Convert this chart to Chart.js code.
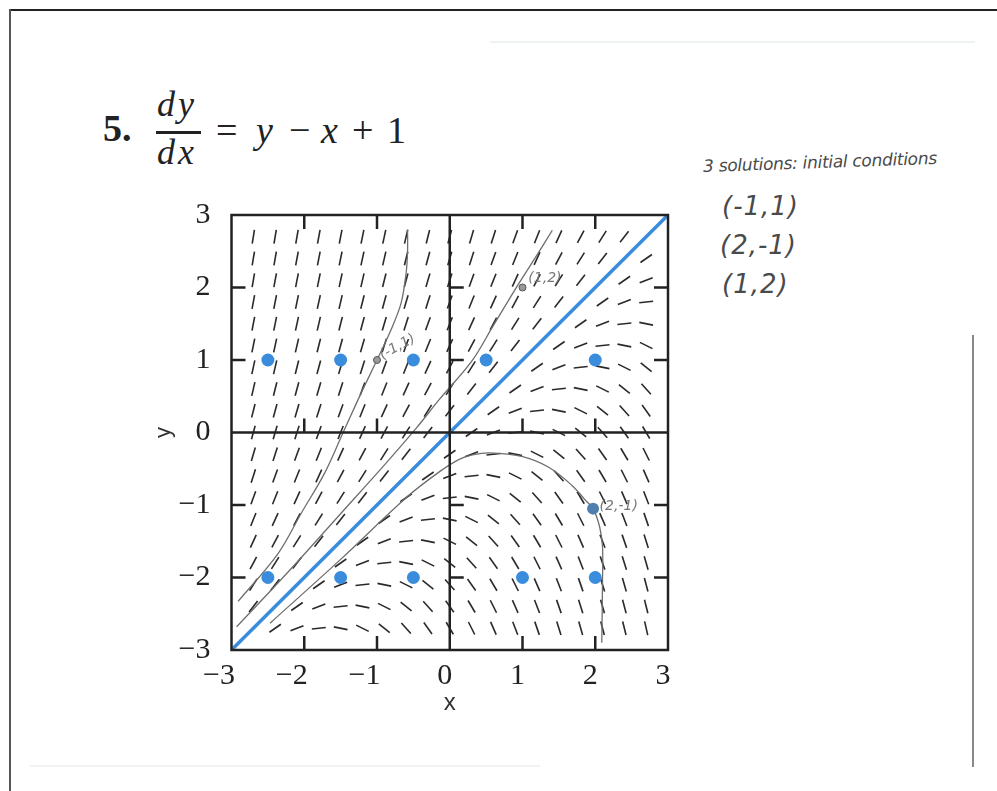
<!DOCTYPE html>
<html>
<head>
<meta charset="utf-8">
<title>dy/dx = y - x + 1</title>
<script src="https://cdn.jsdelivr.net/npm/chart.js@4.4.1/dist/chart.umd.min.js"></script>
<style>
  html, body { margin: 0; padding: 0; background: #fff; }
  body { width: 997px; height: 791px; position: relative; overflow: hidden; font-family: "Liberation Serif", serif; }
  #fieldChart { position: absolute; left: 0; top: 0; }
  .t { position: absolute; white-space: nowrap; color: #222; }
  .hand { position: absolute; white-space: nowrap; color: #4a4a4a; font-family: "DejaVu Sans", sans-serif; font-style: italic; font-weight: 200; }
  .rule { position: absolute; }
</style>
</head>
<body>
<!-- page edges of the scan -->
<div class="rule" style="left:10px;top:9px;width:987px;height:2px;background:#222"></div>
<div class="rule" style="left:9px;top:9px;width:2px;height:782px;background:#555"></div>
<div class="rule" style="left:972px;top:335px;width:2px;height:432px;background:#888"></div>
<div class="rule" style="left:490px;top:41px;width:485px;height:2px;background:#eef2f2"></div>
<div class="rule" style="left:30px;top:765px;width:510px;height:2px;background:#f2f2f2"></div>

<!-- problem heading -->
<div class="t" style="left:103px;top:109px;font-size:38px;line-height:38px;font-weight:bold">5.</div>
<div class="t" style="left:157px;top:86px;font-size:36px;line-height:36px;font-style:italic;letter-spacing:3px">dy</div>
<div class="rule" style="left:156px;top:131px;width:45px;height:2.5px;background:#222"></div>
<div class="t" style="left:157px;top:134px;font-size:36px;line-height:36px;font-style:italic;letter-spacing:3px">dx</div>
<div class="t" style="left:216px;top:111px;font-size:38px;line-height:38px">=</div>
<div class="t" style="left:256px;top:111px;font-size:38px;line-height:38px;font-style:italic">y</div>
<div class="t" style="left:289px;top:111px;font-size:38px;line-height:38px">−</div>
<div class="t" style="left:321px;top:111px;font-size:38px;line-height:38px;font-style:italic">x</div>
<div class="t" style="left:352px;top:111px;font-size:38px;line-height:38px">+</div>
<div class="t" style="left:387px;top:111px;font-size:38px;line-height:38px">1</div>

<!-- handwritten notes -->
<div class="hand" style="left:703px;top:152px;font-size:17px;letter-spacing:-0.3px;transform:rotate(-2deg)">3 solutions: initial conditions</div>
<div class="hand" style="left:722px;top:191px;font-size:26px;letter-spacing:1px">(-1,1)</div>
<div class="hand" style="left:720px;top:230px;font-size:26px;letter-spacing:1px">(2,-1)</div>
<div class="hand" style="left:722px;top:269px;font-size:26px;letter-spacing:1px">(1,2)</div>

<canvas id="fieldChart" width="997" height="791"></canvas>

<script>
// grid where the slope marks sit
const gridX = [-2.7, -2.4, -2.1, -1.8, -1.5, -1.2, -0.9, -0.6, -0.3, 0, 0.3, 0.6, 0.9, 1.2, 1.5, 1.8, 2.1, 2.4, 2.7];
const gridY = [-2.7, -2.4, -2.1, -1.8, -1.5, -1.2, -0.9, -0.6, -0.3, 0, 0.3, 0.6, 0.9, 1.2, 1.5, 1.8, 2.1, 2.4, 2.7];

// axis ticks
const tickValues = [-3, -2, -1, 0, 1, 2, 3];
const tickLabels = ['−3', '−2', '−1', '0', '1', '2', '3'];

// blue dots
const dotX = [-2.5, -1.5, -0.5, 0.5, 2, -2.5, -1.5, -0.5, 1, 2];
const dotY = [1, 1, 1, 1, 1, -2, -2, -2, -2, -2];

// line y = x
const diagX = [-3, 3];
const diagY = [-3, 3];

// initial conditions marked by hand
const penX = [-1, 1];
const penY = [1, 2];
const markX = [1.97];
const markY = [-1.05];

// hand drawn solution curves
const curveAX = [-2.91, -2.36, -2.04, -1.72, -1.47, -1.22, -1.0, -0.81, -0.67, -0.6, -0.58, -0.58];
const curveAY = [-2.33, -1.67, -1.11, -0.56, -0.01, 0.54, 1.0, 1.41, 1.78, 2.2, 2.5, 2.8];
const curveBX = [-2.93, -2.2, -1.5, -0.9, -0.46, -0.14, 0.3, 0.59, 0.94, 1.2, 1.41];
const curveBY = [-2.68, -1.9, -1.12, -0.45, 0.06, 0.46, 0.98, 1.46, 2.04, 2.45, 2.79];
const curveCX = [-2.47, -1.5, -0.6, -0.14, 0.13, 0.31, 0.54, 0.99, 1.36, 1.68, 1.87, 1.97, 2.06, 2.1, 2.1, 2.09];
const curveCY = [-2.63, -1.75, -0.9, -0.54, -0.37, -0.31, -0.28, -0.33, -0.48, -0.73, -0.94, -1.05, -1.3, -1.58, -2.03, -2.9];

// little pencil labels beside the marked points
const noteText = ['(-1,1)', '(1,2)', '(2,-1)'];
const noteX = [-0.95, 1.08, 2.06];
const noteY = [1.05, 2.12, -1.02];

const zip = (xs, ys) => xs.map((x, i) => ({ x: x, y: ys[i] }));

// slope of dy/dx = y - x + 1 at each grid point
let field = [];
gridX.forEach(x => {
  gridY.forEach(y => {
    field.push({ x: x, y: y, m: y - x + 1 });
  });
});

const blue = '#3a8ddc';
const pencil = '#6e6e6e';

const frame = {
  id: 'frame',
  afterDatasetsDraw(chart) {
    const { ctx, chartArea: a, scales: { x, y } } = chart;
    const tl = 14;
    ctx.save();
    ctx.strokeStyle = '#222';
    ctx.lineWidth = 2.5;
    ctx.strokeRect(a.left, a.top, a.right - a.left, a.bottom - a.top);

    const x0 = x.getPixelForValue(0);
    const y0 = y.getPixelForValue(0);
    ctx.beginPath();
    ctx.moveTo(x0, a.top); ctx.lineTo(x0, a.bottom);
    ctx.moveTo(a.left, y0); ctx.lineTo(a.right, y0);

    tickValues.forEach(v => {
      if (v === 0 || Math.abs(v) === 3) return;
      const px = x.getPixelForValue(v);
      const py = y.getPixelForValue(v);
      // box sides, pointing in
      ctx.moveTo(px, a.bottom); ctx.lineTo(px, a.bottom - tl);
      ctx.moveTo(px, a.top); ctx.lineTo(px, a.top + tl);
      ctx.moveTo(a.left, py); ctx.lineTo(a.left + tl, py);
      ctx.moveTo(a.right, py); ctx.lineTo(a.right - tl, py);
      // ticks on the zero lines
      ctx.moveTo(px, y0); ctx.lineTo(px, y0 - tl);
      ctx.moveTo(x0, py); ctx.lineTo(x0 + tl, py);
    });
    ctx.stroke();

    // pencil notes
    ctx.fillStyle = '#777';
    ctx.font = 'italic 200 14px "DejaVu Sans", sans-serif';
    ctx.textBaseline = 'middle';
    noteText.forEach((t, i) => {
      ctx.save();
      ctx.translate(x.getPixelForValue(noteX[i]), y.getPixelForValue(noteY[i]));
      if (i === 0) ctx.rotate(-0.5);
      ctx.fillText(t, 0, 0);
      ctx.restore();
    });
    ctx.restore();
  }
};

const curveStyle = {
  showLine: true,
  borderColor: pencil,
  borderWidth: 1.3,
  pointRadius: 0,
  tension: 0.35,
  fill: false
};

new Chart(document.getElementById('fieldChart'), {
  type: 'scatter',
  data: {
    datasets: [
      { data: zip(markX, markY), pointRadius: 6, backgroundColor: '#4f7fae', borderWidth: 0 },
      { data: zip(penX, penY), pointRadius: 3.5, backgroundColor: '#999', borderColor: '#555', borderWidth: 1 },
      { data: zip(dotX, dotY), pointRadius: 6.5, backgroundColor: blue, borderWidth: 0 },
      { data: zip(diagX, diagY), showLine: true, borderColor: blue, borderWidth: 3.5, pointRadius: 0 },
      Object.assign({ data: zip(curveAX, curveAY) }, curveStyle),
      Object.assign({ data: zip(curveBX, curveBY) }, curveStyle),
      Object.assign({ data: zip(curveCX, curveCY) }, curveStyle),
      {
        data: field,
        pointStyle: 'line',
        pointRadius: 7,
        borderColor: '#2a2a2a',
        borderWidth: 1.6,
        rotation: (c) => {
          const r = c.raw;
          if (!r) return 0;
          const s = c.chart.scales;
          const d = 0.01;
          const dx = s.x.getPixelForValue(r.x + d) - s.x.getPixelForValue(r.x);
          const dy = s.y.getPixelForValue(r.y + r.m * d) - s.y.getPixelForValue(r.y);
          return Math.atan2(dy, dx) * 180 / Math.PI;
        }
      }
    ]
  },
  options: {
    responsive: false,
    animation: false,
    events: [],
    layout: { padding: { left: 140, right: 329, top: 215, bottom: 61 } },
    plugins: { legend: { display: false }, tooltip: { enabled: false } },
    scales: {
      x: {
        type: 'linear', min: -3, max: 3,
        afterFit: (s) => { s.height = 80; },
        afterBuildTicks: (s) => { s.ticks = tickValues.map(v => ({ value: v })); },
        grid: { display: false },
        border: { display: false },
        ticks: {
          padding: 0,
          labelOffset: -5,
          color: '#222',
          font: { family: '"Liberation Serif", serif', size: 30 },
          callback: (v) => {
            const lab = tickLabels[tickValues.indexOf(v)];
            return v < 0 ? lab + '\u2002' : lab;
          }
        },
        title: { display: true, text: 'x', color: '#333', font: { family: '"Liberation Sans", sans-serif', size: 24 }, padding: { top: 0, bottom: 12 } }
      },
      y: {
        type: 'linear', min: -3, max: 3,
        afterFit: (s) => { s.width = 91.5; },
        afterBuildTicks: (s) => { s.ticks = tickValues.map(v => ({ value: v })); },
        grid: { display: false },
        border: { display: false },
        ticks: {
          padding: 13,
          color: '#222',
          font: { family: '"Liberation Serif", serif', size: 30 },
          callback: (v) => tickLabels[tickValues.indexOf(v)]
        },
        title: { display: true, text: 'y', color: '#333', font: { family: '"Liberation Sans", sans-serif', size: 22 }, padding: { top: 11, bottom: 0 } }
      }
    }
  },
  plugins: [frame]
});
</script>
</body>
</html>
